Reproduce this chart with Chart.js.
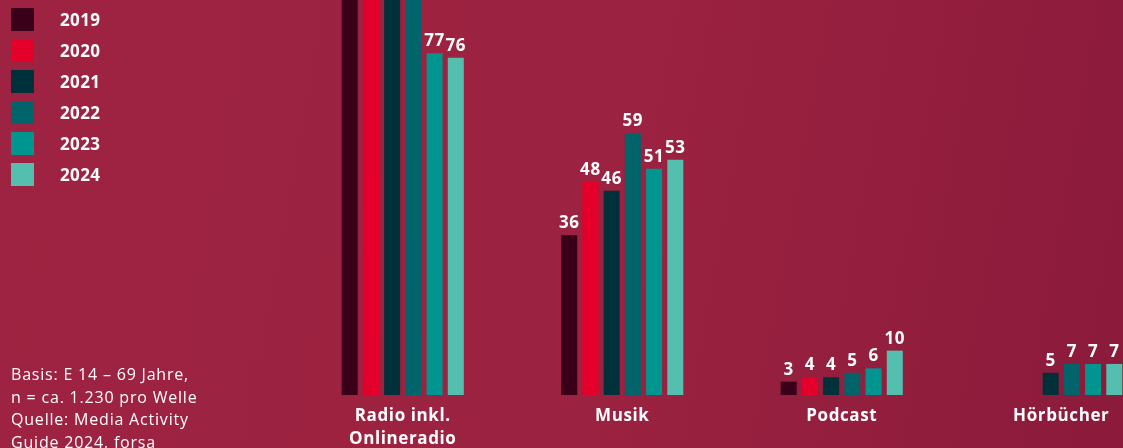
<!DOCTYPE html>
<html>
<head>
<meta charset="utf-8">
<script src="https://cdn.jsdelivr.net/npm/chart.js@4/dist/chart.umd.min.js"></script>
<style>
  html, body { margin:0; padding:0; width:1123px; height:448px; overflow:hidden; }
  body { background: linear-gradient(100deg, #9e2342 0%, #9b2240 55%, #8b1a3b 100%); font-family: "Open Sans", sans-serif; position:relative; }
  #wrap { position:absolute; left:0; top:0; width:1171px; height:448px; }
  #legend { position:absolute; left:11px; top:8px; }
  .item { height:23px; margin-bottom:8px; position:relative; }
  .sw { position:absolute; left:0; top:0; width:23px; height:23px; }
  .lt { position:absolute; left:49px; top:0; line-height:23px; color:#fff; font-weight:700; font-size:17px; letter-spacing:0.4px; }
  #note { position:absolute; left:11px; top:363px; color:#fff; font-size:16px; line-height:22.7px; white-space:nowrap; letter-spacing:0.8px; }
</style>
</head>
<body>
<div id="wrap"><canvas id="c" width="1171" height="448"></canvas></div>
<div id="legend"></div>
<div id="note">Basis: E 14 – 69 Jahre,<br>n = ca. 1.230 pro Welle<br>Quelle: Media Activity<br>Guide 2024, forsa</div>
<script>
const categories = [['Radio inkl.', 'Onlineradio'], 'Musik', 'Podcast', 'Hörbücher'];
const years = ['2019', '2020', '2021', '2022', '2023', '2024'];
const v2019 = [92, 36, 3, null];
const v2020 = [91, 48, 4, null];
const v2021 = [90, 46, 4, 5];
const v2022 = [90, 59, 5, 7];
const v2023 = [77, 51, 6, 7];
const v2024 = [76, 53, 10, 7];
const colors = ['#3a0019', '#e4002b', '#00313b', '#00646a', '#00968f', '#54bfae'];
const series = [v2019, v2020, v2021, v2022, v2023, v2024];
const Y_MAX = 89;

const legend = document.getElementById('legend');
years.forEach((y, i) => {
  const d = document.createElement('div');
  d.className = 'item';
  d.innerHTML = '<div class="sw" style="background:' + colors[i] + '"></div><div class="lt">' + y + '</div>';
  legend.appendChild(d);
});

const spacing = {
  id: 'spacing',
  beforeDraw(chart) { chart.ctx.letterSpacing = '0.6px'; }
};

const valueLabels = {
  id: 'valueLabels',
  afterDatasetsDraw(chart) {
    const ctx = chart.ctx;
    ctx.save();
    ctx.letterSpacing = '0.6px';
    ctx.fillStyle = '#ffffff';
    ctx.font = '700 17px "Open Sans"';
    ctx.textAlign = 'center';
    ctx.textBaseline = 'alphabetic';
    chart.data.datasets.forEach((ds, di) => {
      const meta = chart.getDatasetMeta(di);
      meta.data.forEach((bar, i) => {
        const v = ds.data[i];
        if (v === null || v === undefined || v > Y_MAX - 4) return;
        ctx.fillText(String(v), bar.x, bar.y - 7);
      });
    });
    ctx.restore();
  }
};

new Chart(document.getElementById('c'), {
  type: 'bar',
  data: {
    labels: categories,
    datasets: years.map((y, i) => ({
      label: y,
      data: series[i],
      backgroundColor: colors[i],
      borderWidth: 0,
      categoryPercentage: 0.58,
      barPercentage: 0.755
    }))
  },
  options: {
    responsive: false,
    animation: false,
    layout: { padding: { left: 293, right: 0, top: 0, bottom: 0 } },
    plugins: { legend: { display: false }, tooltip: { enabled: false } },
    scales: {
      y: { display: false, min: 0, max: Y_MAX },
      x: {
        grid: { display: false, drawTicks: false },
        border: { display: false },
        ticks: {
          color: '#ffffff',
          font: { family: 'Open Sans', weight: '700', size: 17, lineHeight: 1.35 },
          padding: 10,
          maxRotation: 0,
          autoSkip: false
        },
        afterFit(scale) { scale.height = 53; }
      }
    }
  },
  plugins: [spacing, valueLabels]
});
</script>
</body>
</html>
